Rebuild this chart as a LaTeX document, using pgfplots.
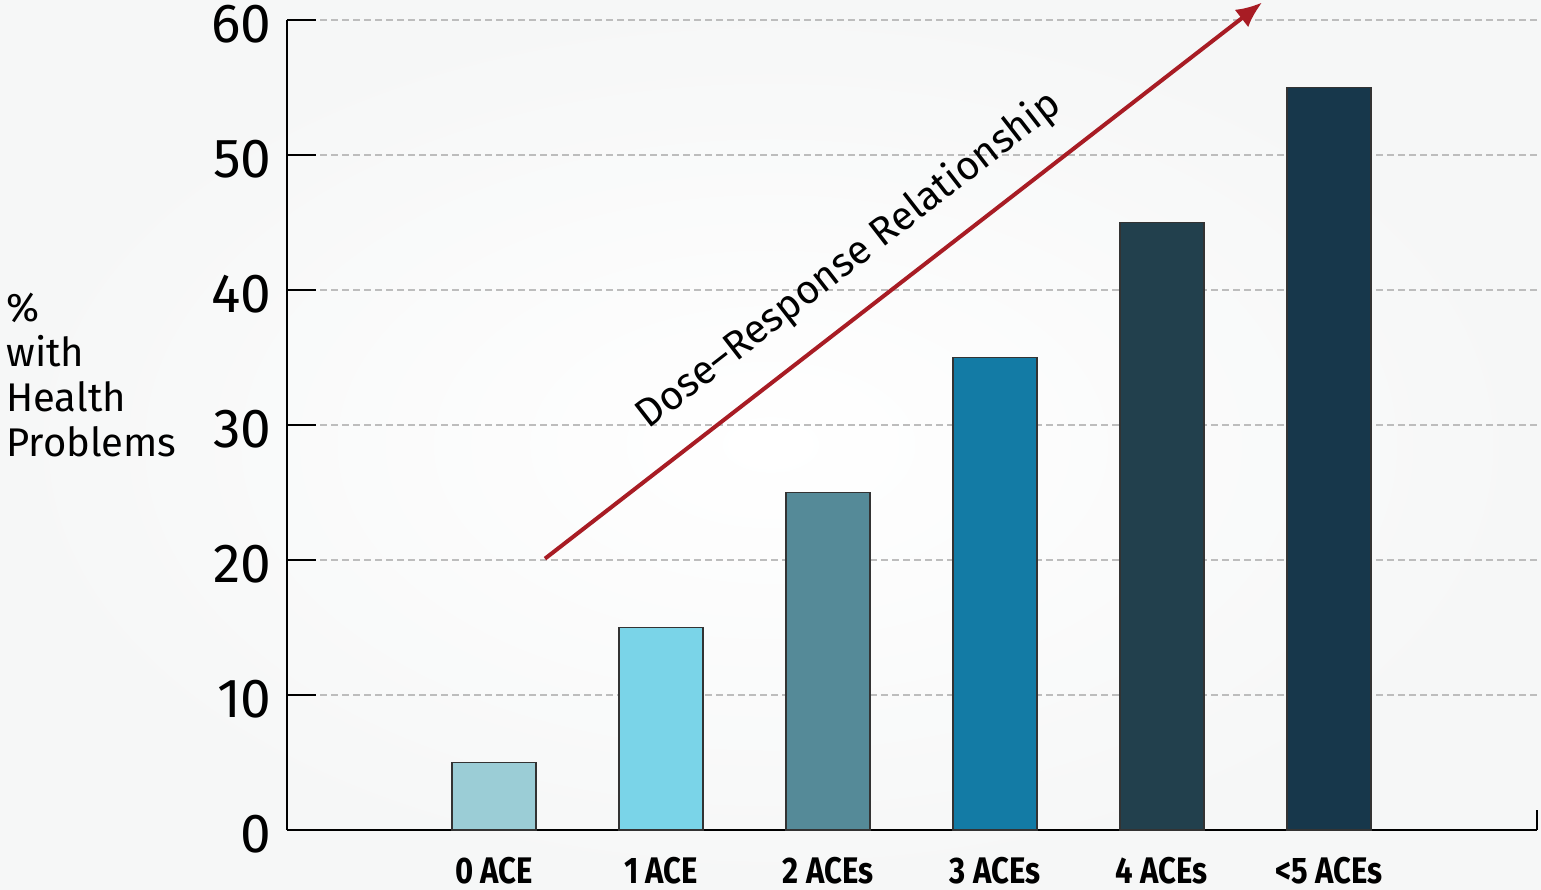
\documentclass[border=0pt]{standalone}
\usepackage{fontspec}
\setmainfont{Fira Sans}
\usepackage{pgfplots}
\pgfplotsset{compat=1.18}
\usetikzlibrary{arrows.meta}
\definecolor{c0}{HTML}{9BCDD6}
\definecolor{c1}{HTML}{7AD4E8}
\definecolor{c2}{HTML}{558A98}
\definecolor{c3}{HTML}{137BA5}
\definecolor{c4}{HTML}{22404D}
\definecolor{c5}{HTML}{17374B}
\definecolor{arrowred}{HTML}{A81C24}
\definecolor{gridgray}{HTML}{BDBDBD}
\definecolor{bgout}{HTML}{F6F7F7}
\newcommand{\xl}[1]{\scalebox{0.84}[1]{#1}}
\begin{document}
\begin{tikzpicture}
\path[use as bounding box] (-143.5pt,-29.5pt) rectangle (627pt,415pt);
\shade[inner color=white, outer color=bgout] (-143.5pt,-29.5pt) rectangle (627pt,415pt);
\begin{axis}[
  scale only axis,
  width=625pt, height=405pt,
  xmin=-1.24, xmax=6.246,
  ymin=0, ymax=60,
  clip=false,
  axis x line=bottom, axis y line=left,
  axis line style={-, line width=1.25pt, black},
  ytick={0,10,20,30,40,50,60},
  xtick={0,1,2,3,4,5},
  xticklabels={\xl{0 ACE},\xl{1 ACE},\xl{2 ACEs},\xl{3 ACEs},\xl{4 ACEs},\xl{<5 ACEs}},
  tick align=inside,
  major tick length=14.5pt,
  ytick style={line width=1.25pt, black},
  xtick style={draw=none},
  ymajorgrids,
  major grid style={gridgray, line width=0.8pt, dash pattern=on 3.5pt off 2pt},
  /pgf/number format/assume math mode=true,
  yticklabel style={font=\fontsize{27.5}{30}\selectfont, inner sep=0pt, xshift=-7.5pt, yshift=-2pt},
  xticklabel style={font=\bfseries\fontsize{18.5}{21}\selectfont, anchor=north, inner sep=0pt, yshift=1pt},
  ybar, bar width=42pt,
]
\addplot[ybar, bar shift=0pt, fill=c0, draw=black!80, line width=0.6pt] coordinates {(0,5)};
\addplot[ybar, bar shift=0pt, fill=c1, draw=black!80, line width=0.6pt] coordinates {(1,15)};
\addplot[ybar, bar shift=0pt, fill=c2, draw=black!80, line width=0.6pt] coordinates {(2,25)};
\addplot[ybar, bar shift=0pt, fill=c3, draw=black!80, line width=0.6pt] coordinates {(3,35)};
\addplot[ybar, bar shift=0pt, fill=c4, draw=black!80, line width=0.6pt] coordinates {(4,45)};
\addplot[ybar, bar shift=0pt, fill=c5, draw=black!80, line width=0.6pt] coordinates {(5,55)};
\addplot[sharp plot, no markers, draw=arrowred, line width=2pt, -{Latex[length=13pt,width=11pt]}] coordinates {(0.305,20.1) (4.6,61.3)};
\node[rotate=37.8, font=\fontsize{20}{22}\selectfont] at (axis cs:2.126,42.2) {Dose–Response Relationship};
\draw[line width=1.25pt] (rel axis cs:1,0) -- ++(0pt,10pt);
\end{axis}
\node[anchor=west, align=left, font=\fontsize{20}{22.5}\selectfont, inner sep=0pt] at (-140.5pt,227.5pt) {\%\\with\\Health\\Problems};
\end{tikzpicture}
\end{document}
